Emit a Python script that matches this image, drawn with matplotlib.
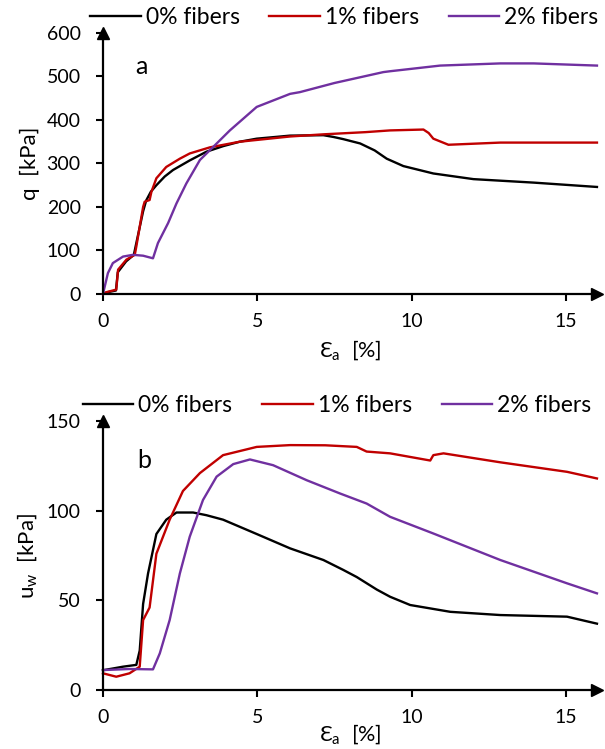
import numpy as np
import matplotlib
matplotlib.use("Agg")
import matplotlib.pyplot as plt

plt.rcParams['font.family'] = ['Lato', 'DejaVu Sans']
plt.rcParams['mathtext.fontset'] = 'custom'
plt.rcParams['mathtext.rm'] = 'Lato'

labels = ['0% fibers', '1% fibers', '2% fibers']
colors = ['black', '#C00000', '#7030A0']

# panel a: deviator stress q [kPa] vs axial strain [%]
eps_q0 = [0, 0.15, 0.42, 0.48, 0.75, 1.0, 1.08, 1.3, 1.4, 1.55, 1.73, 2.0, 2.27, 2.81, 3.35, 3.9, 4.43,
          4.98, 6.06, 7.14, 7.46, 7.78, 8.33, 8.8, 9.19, 9.73, 10.7, 12.0, 13.95, 16.0]
q0 = [0, 4, 8, 50, 75, 90, 117, 190, 215, 235, 250, 270, 285, 307, 327, 340, 350,
      357, 364, 365, 361, 356, 346, 330, 311, 294, 277, 264, 256, 246]

eps_q1 = [0, 0.1, 0.43, 0.49, 0.76, 1.03, 1.08, 1.3, 1.35, 1.51, 1.57, 1.73, 2.05, 2.49, 2.81, 3.46,
          4.43, 6.06, 7.14, 8.5, 9.3, 10.38, 10.55, 10.7, 11.19, 12.87, 16.0]
q1 = [0, 4, 10, 56, 79, 90, 109, 200, 212, 216, 235, 266, 292, 311, 323, 337,
      350, 362, 367, 372, 376, 378, 370, 357, 343, 348, 348]

eps_q2 = [0, 0.16, 0.32, 0.65, 0.97, 1.3, 1.62, 1.78, 2.11, 2.38, 2.7, 3.14, 3.57, 4.11, 4.98, 6.06,
          6.38, 7.5, 9.08, 9.3, 10.92, 12.87, 13.95, 16.0]
q2 = [0, 48, 71, 86, 90, 88, 82, 117, 163, 208, 254, 308, 338, 376, 430, 460,
      464, 485, 510, 512, 525, 530, 530, 525]

# panel b: pore water pressure u_w [kPa] vs axial strain [%]
eps_u0 = [0, 0.65, 1.08, 1.19, 1.3, 1.46, 1.73, 2.05, 2.38, 2.92, 3.35, 3.89, 4.98, 6.06, 7.14, 7.78,
          8.22, 8.87, 9.3, 9.95, 11.25, 12.87, 15.03, 16.0]
u0 = [11, 13, 14, 22, 48, 65, 87, 95, 99, 99, 97.5, 95, 87, 79, 72.5, 67,
      63, 56, 52, 47.4, 43.6, 41.8, 40.9, 37]

eps_u1 = [0, 0.43, 0.86, 1.19, 1.3, 1.51, 1.73, 2.16, 2.59, 3.14, 3.89, 4.98, 6.06, 7.2, 8.22, 8.54,
          9.3, 10.6, 10.7, 11.03, 12.87, 15.03, 16.0]
u1 = [9.3, 7.4, 9.3, 13, 39, 46, 76, 95, 111, 121, 131, 135.6, 136.6, 136.5, 135.6, 133,
      132, 128, 131, 132, 127, 121.7, 118]

eps_u2 = [0, 0.86, 1.62, 1.84, 2.16, 2.49, 2.81, 3.24, 3.68, 4.22, 4.76, 5.51, 6.6, 7.68, 8.54, 9.3,
          10.7, 12.87, 15.03, 16.0]
u2 = [11.1, 11.7, 11.5, 20.4, 39, 65, 85.5, 106, 119, 126, 128.6, 125.4, 117, 109.6, 104, 96.6,
      87.3, 72.5, 59.5, 53.9]

fig = plt.figure(figsize=(6.05, 7.49), dpi=100)
ax1 = fig.add_axes([0.1702, 0.6075, 0.8165, 0.3485])
ax2 = fig.add_axes([0.1702, 0.0788, 0.8165, 0.359])

def style(ax, ymax, yticks, xlabelpad):
    ax.set_xlim(0, 16)
    ax.set_ylim(0, ymax)
    ax.set_xticks([0, 5, 10, 15])
    ax.set_yticks(yticks)
    for s in ['top', 'right']:
        ax.spines[s].set_visible(False)
    for s in ['left', 'bottom']:
        ax.spines[s].set_linewidth(1.6)
    ax.tick_params(axis='both', direction='out', length=5, width=1.5, labelsize=14)
    ax.tick_params(axis='x', pad=9)
    ax.tick_params(axis='y', pad=11)
    ax.plot(1, 0, '>k', markersize=9, transform=ax.transAxes, clip_on=False)
    ax.plot(0, 1, '^k', markersize=9, transform=ax.transAxes, clip_on=False)
    ax.set_xlabel(r'Ɛ$_\mathregular{a}$  [%]', fontsize=15.5, labelpad=xlabelpad)

leg_kw = dict(ncol=3, frameon=False, fontsize=16.5, loc='center',
              handlelength=2.2, handletextpad=0.22, columnspacing=1.3)

for e, v, c, l in zip([eps_q0, eps_q1, eps_q2], [q0, q1, q2], colors, labels):
    ax1.plot(e, v, color=c, lw=1.7, label=l, clip_on=False)
style(ax1, 600, np.arange(0, 601, 100), 6)
ax1.set_ylabel('q  [kPa]', fontsize=16, labelpad=5)
ax1.text(0.065, 0.87, 'a', transform=ax1.transAxes, fontsize=18, va='center')
ax1.legend(bbox_to_anchor=(0.569, 0.976), bbox_transform=fig.transFigure, **leg_kw)

for e, v, c, l in zip([eps_u0, eps_u1, eps_u2], [u0, u1, u2], colors, labels):
    ax2.plot(e, v, color=c, lw=1.7, label=l, clip_on=False)
style(ax2, 150, [0, 50, 100, 150], -2.5)
ax2.set_ylabel(r'u$_\mathregular{w}$  [kPa]', fontsize=16, labelpad=5)
ax2.text(0.07, 0.855, 'b', transform=ax2.transAxes, fontsize=18, va='center')
ax2.legend(bbox_to_anchor=(0.557, 0.458), bbox_transform=fig.transFigure, **leg_kw)

fig.savefig('out.png', dpi=100)
